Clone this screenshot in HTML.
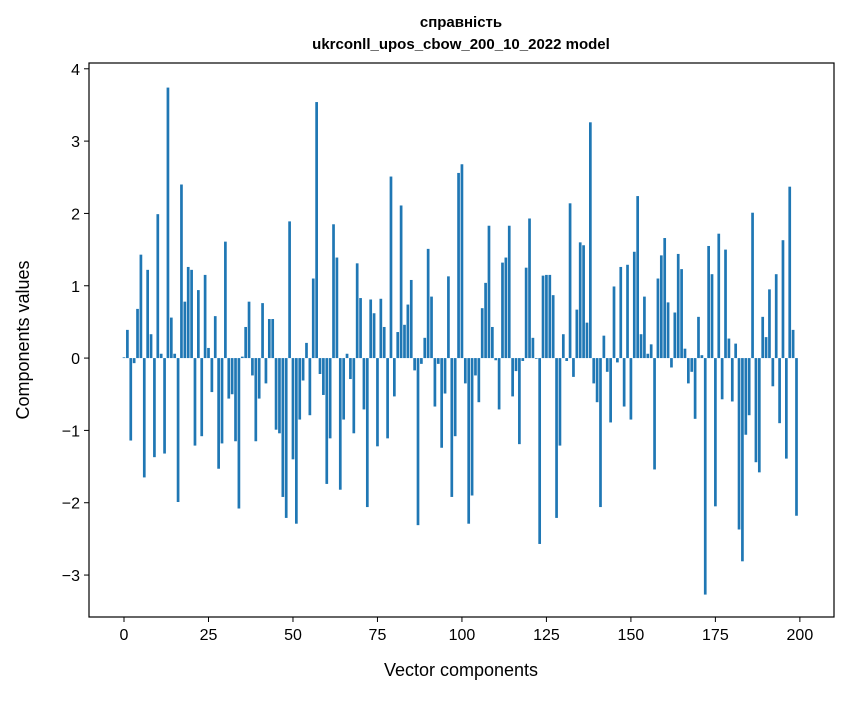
<!DOCTYPE html>
<html><head><meta charset="utf-8"><style>
body{margin:0;background:#fff;font-family:"Liberation Sans","DejaVu Sans",sans-serif;}
svg text{font-family:"Liberation Sans","DejaVu Sans",sans-serif;}
</style></head><body>
<svg id="chart" width="847" height="696" viewBox="0 0 847 696" xmlns="http://www.w3.org/2000/svg">
<rect width="847" height="696" fill="#fff"/>
<text x="461" y="27" text-anchor="middle" font-size="15" font-weight="bold">справність</text>
<text x="461" y="49" text-anchor="middle" font-size="15" font-weight="bold">ukrconll_upos_cbow_200_10_2022 model</text>
<g id="bars"></g>
<g id="axes"></g>
<text x="461" y="676" text-anchor="middle" font-size="18">Vector components</text>
<text transform="translate(29,340) rotate(-90)" text-anchor="middle" font-size="18">Components values</text>
</svg>
<script>
const values = [0.01,0.39,-1.14,-0.07,0.68,1.43,-1.65,1.22,0.33,-1.37,1.99,0.06,-1.32,3.74,0.56,0.06,-1.99,2.40,0.78,1.26,1.22,-1.21,0.94,-1.08,1.15,0.14,-0.47,0.58,-1.53,-1.18,1.61,-0.56,-0.50,-1.15,-2.08,0.02,0.43,0.78,-0.24,-1.15,
-0.56,0.76,-0.35,0.54,0.54,-0.99,-1.04,-1.92,-2.21,1.89,-1.40,-2.29,-0.85,-0.31,0.21,-0.79,1.10,3.54,-0.22,-0.51,-1.74,-1.11,1.85,1.39,-1.82,-0.85,0.06,-0.29,-1.04,1.31,0.83,-0.71,-2.06,0.81,0.62,-1.22,0.82,0.43,-1.11,2.51,
-0.53,0.36,2.11,0.46,0.74,1.08,-0.17,-2.31,-0.08,0.28,1.51,0.85,-0.67,-0.08,-1.24,-0.49,1.13,-1.92,-1.08,2.56,2.68,-0.35,-2.29,-1.90,-0.24,-0.61,0.69,1.04,1.83,0.43,-0.03,-0.71,1.32,1.39,1.83,-0.53,-0.18,-1.19,-0.04,1.25,
1.93,0.28,-0.01,-2.57,1.14,1.15,1.15,0.87,-2.21,-1.21,0.33,-0.04,2.14,-0.26,0.67,1.60,1.56,0.49,3.26,-0.35,-0.61,-2.06,0.31,-0.19,-0.89,0.99,-0.06,1.26,-0.67,1.29,-0.85,1.47,2.24,0.33,0.85,0.06,0.19,-1.54,1.10,1.42,
1.66,0.77,-0.13,0.63,1.44,1.23,0.13,-0.35,-0.19,-0.84,0.57,0.04,-3.27,1.55,1.16,-2.05,1.72,-0.57,1.50,0.27,-0.60,0.20,-2.37,-2.81,-1.06,-0.79,2.01,-1.44,-1.58,0.57,0.29,0.95,-0.39,1.16,-0.90,1.63,-1.39,2.37,0.39,-2.18];
const xTicks = [0,25,50,75,100,125,150,175,200];
const yTicks = [-3,-2,-1,0,1,2,3,4];
const L=89,R=834,T=63,B=617;
const xMin=-10.36,xMax=210.1,yMin=-3.58,yMax=4.08;
function sx(v){return L+(v-xMin)/(xMax-xMin)*(R-L);}
function sy(v){return T+(yMax-v)/(yMax-yMin)*(B-T);}
const NS="http://www.w3.org/2000/svg";
const bars=document.getElementById('bars');
values.forEach((v,i)=>{
  const r=document.createElementNS(NS,'rect');
  const x0=sx(i-0.4),x1=sx(i+0.4);
  const y0=sy(Math.max(v,0)),y1=sy(Math.min(v,0));
  r.setAttribute('x',x0);r.setAttribute('width',x1-x0);
  r.setAttribute('y',y0);r.setAttribute('height',Math.max(y1-y0,0.3));
  r.setAttribute('fill','#1f77b4');
  
  
  bars.appendChild(r);
});
const ax=document.getElementById('axes');
const frame=document.createElementNS(NS,'rect');
frame.setAttribute('x',L);frame.setAttribute('y',T);frame.setAttribute('width',R-L);frame.setAttribute('height',B-T);
frame.setAttribute('fill','none');frame.setAttribute('stroke','#000');frame.setAttribute('stroke-width','1.2');


ax.appendChild(frame);
xTicks.forEach(t=>{
  const x=sx(t);
  const l=document.createElementNS(NS,'line');
  l.setAttribute('x1',x);l.setAttribute('x2',x);l.setAttribute('y1',B);l.setAttribute('y2',B+5);l.setAttribute('stroke','#000');
  
  
  ax.appendChild(l);
  const tx=document.createElementNS(NS,'text');
  tx.setAttribute('x',x);tx.setAttribute('y',B+23);tx.setAttribute('text-anchor','middle');tx.setAttribute('font-size','16');
  tx.textContent=t;
  
  
  ax.appendChild(tx);
});
yTicks.forEach(t=>{
  const y=sy(t);
  const l=document.createElementNS(NS,'line');
  l.setAttribute('x1',L-5);l.setAttribute('x2',L);l.setAttribute('y1',y);l.setAttribute('y2',y);l.setAttribute('stroke','#000');
  
  
  ax.appendChild(l);
  const tx=document.createElementNS(NS,'text');
  tx.setAttribute('x',L-9);tx.setAttribute('y',y+6);tx.setAttribute('text-anchor','end');tx.setAttribute('font-size','16');
  tx.textContent=t<0?'\u2212'+Math.abs(t):t;
  
  
  ax.appendChild(tx);
});
</script>
</body></html>
